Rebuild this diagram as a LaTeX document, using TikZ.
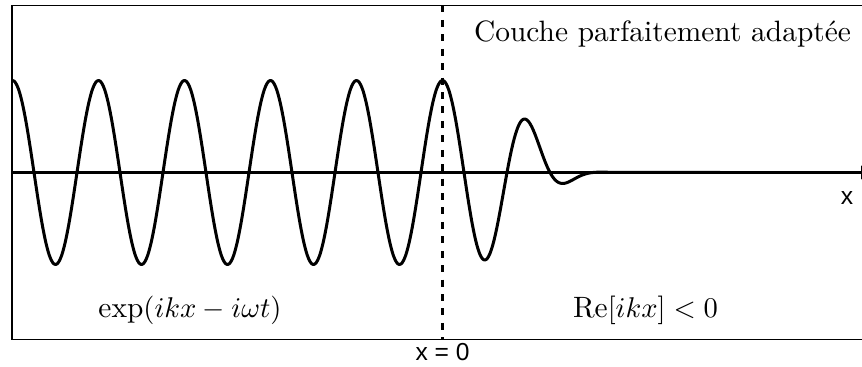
\documentclass[tikz,border=0pt]{standalone}
\usepackage{fontspec}
\newfontfamily\lsans{Liberation Sans}
\usetikzlibrary{arrows.meta}
\tikzset{
  wave/.style={line width=1.05pt, line join=round},
  axisline/.style={line width=0.85pt},
  frame/.style={line width=0.55pt},
  sep/.style={line width=0.85pt, dash pattern=on 2.45pt off 2.6pt},
  lab/.style={inner sep=0pt, font=\fontsize{8.6}{9}\lsans},
  mlab/.style={inner sep=0pt, font=\fontsize{10.3}{12}\selectfont}
}
\begin{document}
\begin{tikzpicture}[x=0.35pt,y=-0.35pt]
\useasboundingbox (0,0) rectangle (862,367);
\coordinate (tl) at (12,5.5);
\coordinate (br) at (875,339.5);
\draw[frame] (tl) rectangle (br);
\coordinate (x0top) at (442.5,5.5);
\coordinate (x0bot) at (442.5,339.5);
\coordinate (axL) at (12,172.5);
\coordinate (axR) at (881,172.5);
\draw[sep] (x0top) -- (x0bot);
\draw[wave] plot[domain=12.5:442.5, samples=300, smooth] (\x, {172.5-92*cos((\x-442.5)/86*360)})
  -- plot[domain=442.5:720, samples=300, smooth] (\x, {172.5-92*cos((\x-442.5)/86*360)*exp(-0.59*((\x-442.5)/86)^3*sqrt((\x-442.5)/86))});
\draw[axisline, -{Latex[length=7pt,width=5pt]}] (axL) -- (axR);
\node[mlab, anchor=base] (pml) at (662.5,42) {Couche parfaitement adapt\'ee};
\node[mlab, anchor=base] (left) at (190,318) {$\exp(ikx-i\omega t)$};
\node[mlab, anchor=base] (right) at (645.5,318) {$\mathrm{Re}[ikx]<0$};
\node[lab, anchor=base] (xl) at (847,205) {x};
\node[lab, anchor=base] (x0) at (442.5,361) {x = 0};
\end{tikzpicture}
\end{document}
